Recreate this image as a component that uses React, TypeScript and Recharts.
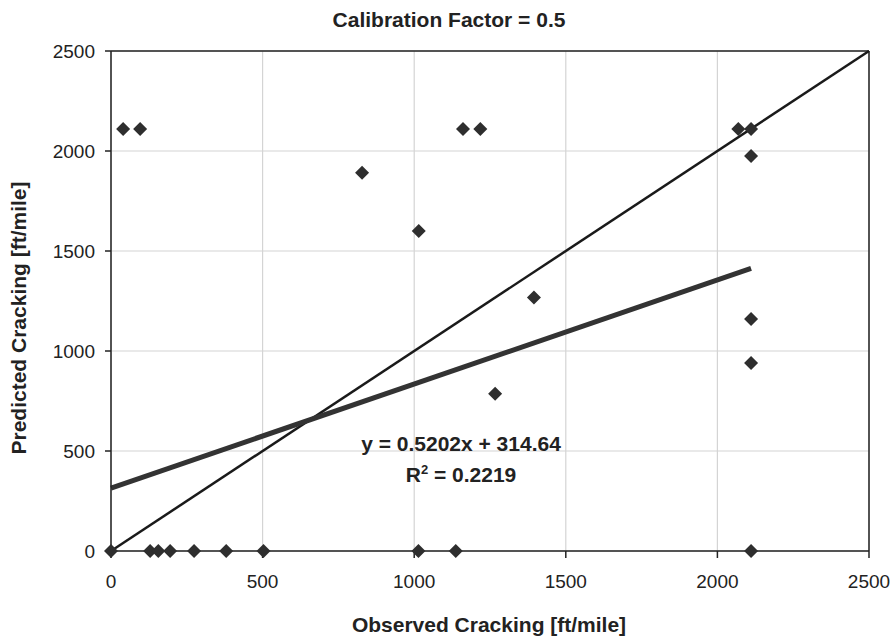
import React from "react";
import {
  ComposedChart,
  Scatter,
  XAxis,
  YAxis,
  CartesianGrid,
  ReferenceLine,
} from "recharts";

// observed vs predicted cracking [ft/mile]
const observed = [
  40, 96, 1161, 1218, 2069, 2111, 828, 1015, 2111, 1267, 1395, 2111, 2111,
  0, 129, 156, 195, 274, 380, 503, 1014, 1137, 2111,
];
const predicted = [
  2110, 2110, 2110, 2110, 2110, 2110, 1891, 1600, 1975, 786, 1267, 1160, 940,
  0, 0, 0, 0, 0, 0, 0, 0, 0, 0,
];

const axisTicks = [0, 500, 1000, 1500, 2000, 2500];

// linear trend shown in the chart
const slope = 0.5202;
const intercept = 314.64;
const trendRange = [0, 2111];

const points = observed.map((x, i) => ({ x, y: predicted[i] }));

const FONT = "'Liberation Sans', Arial, Helvetica, sans-serif";
const INK = "#222";

const Diamond = (props: any) => {
  const { cx, cy } = props;
  const r = 7;
  return (
    <path
      d={`M${cx},${cy - r} L${cx + r},${cy} L${cx},${cy + r} L${cx - r},${cy} Z`}
      fill="#2e2e2e"
    />
  );
};

export default function App() {
  const tickStyle = { fontSize: 19, fill: INK, fontFamily: FONT };
  return (
    <div style={{ position: "absolute", left: 0, top: 0, background: "#fff" }}>
      <ComposedChart
        width={896}
        height={638}
        margin={{ top: 51, right: 27, bottom: 0, left: 0 }}
      >
        <CartesianGrid stroke="#d4d4d4" strokeWidth={1.2} />
        <XAxis
          type="number"
          dataKey="x"
          domain={[0, 2500]}
          ticks={axisTicks}
          height={87}
          tick={tickStyle}
          tickSize={7}
          tickMargin={17}
          stroke={INK}
          strokeWidth={1.5}
        />
        <YAxis
          type="number"
          dataKey="y"
          domain={[0, 2500]}
          ticks={axisTicks}
          width={111}
          tick={tickStyle}
          tickSize={6}
          tickMargin={10}
          stroke={INK}
          strokeWidth={1.5}
        />
        <ReferenceLine y={2500} stroke={INK} strokeWidth={1.5} />
        <ReferenceLine x={2500} stroke={INK} strokeWidth={1.5} />
        <ReferenceLine
          segment={[
            { x: 0, y: 0 },
            { x: 2500, y: 2500 },
          ]}
          stroke="#1a1a1a"
          strokeWidth={2.5}
        />
        <ReferenceLine
          segment={trendRange.map((x) => ({ x, y: slope * x + intercept }))}
          stroke="#333"
          strokeWidth={5}
        />
        <Scatter data={points} shape={<Diamond />} isAnimationActive={false} />
        <text
          x={449}
          y={27}
          textAnchor="middle"
          fontSize={21}
          fontWeight="bold"
          fontFamily={FONT}
          fill={INK}
        >
          Calibration Factor = 0.5
        </text>
        <text
          x={489}
          y={632}
          textAnchor="middle"
          fontSize={21}
          fontWeight="bold"
          fontFamily={FONT}
          fill={INK}
        >
          Observed Cracking [ft/mile]
        </text>
        <text
          x={0}
          y={0}
          transform="translate(26, 318) rotate(-90)"
          textAnchor="middle"
          fontSize={21}
          fontWeight="bold"
          fontFamily={FONT}
          fill={INK}
        >
          Predicted Cracking [ft/mile]
        </text>
        <text
          x={461}
          y={451}
          textAnchor="middle"
          fontSize={21}
          fontWeight="bold"
          fontFamily={FONT}
          fill={INK}
        >
          y = 0.5202x + 314.64
        </text>
        <text
          x={461}
          y={482}
          textAnchor="middle"
          fontSize={21}
          fontWeight="bold"
          fontFamily={FONT}
          fill={INK}
        >
          R<tspan dy={-8} fontSize={13}>2</tspan>
          <tspan dy={8}> = 0.2219</tspan>
        </text>
      </ComposedChart>
    </div>
  );
}
